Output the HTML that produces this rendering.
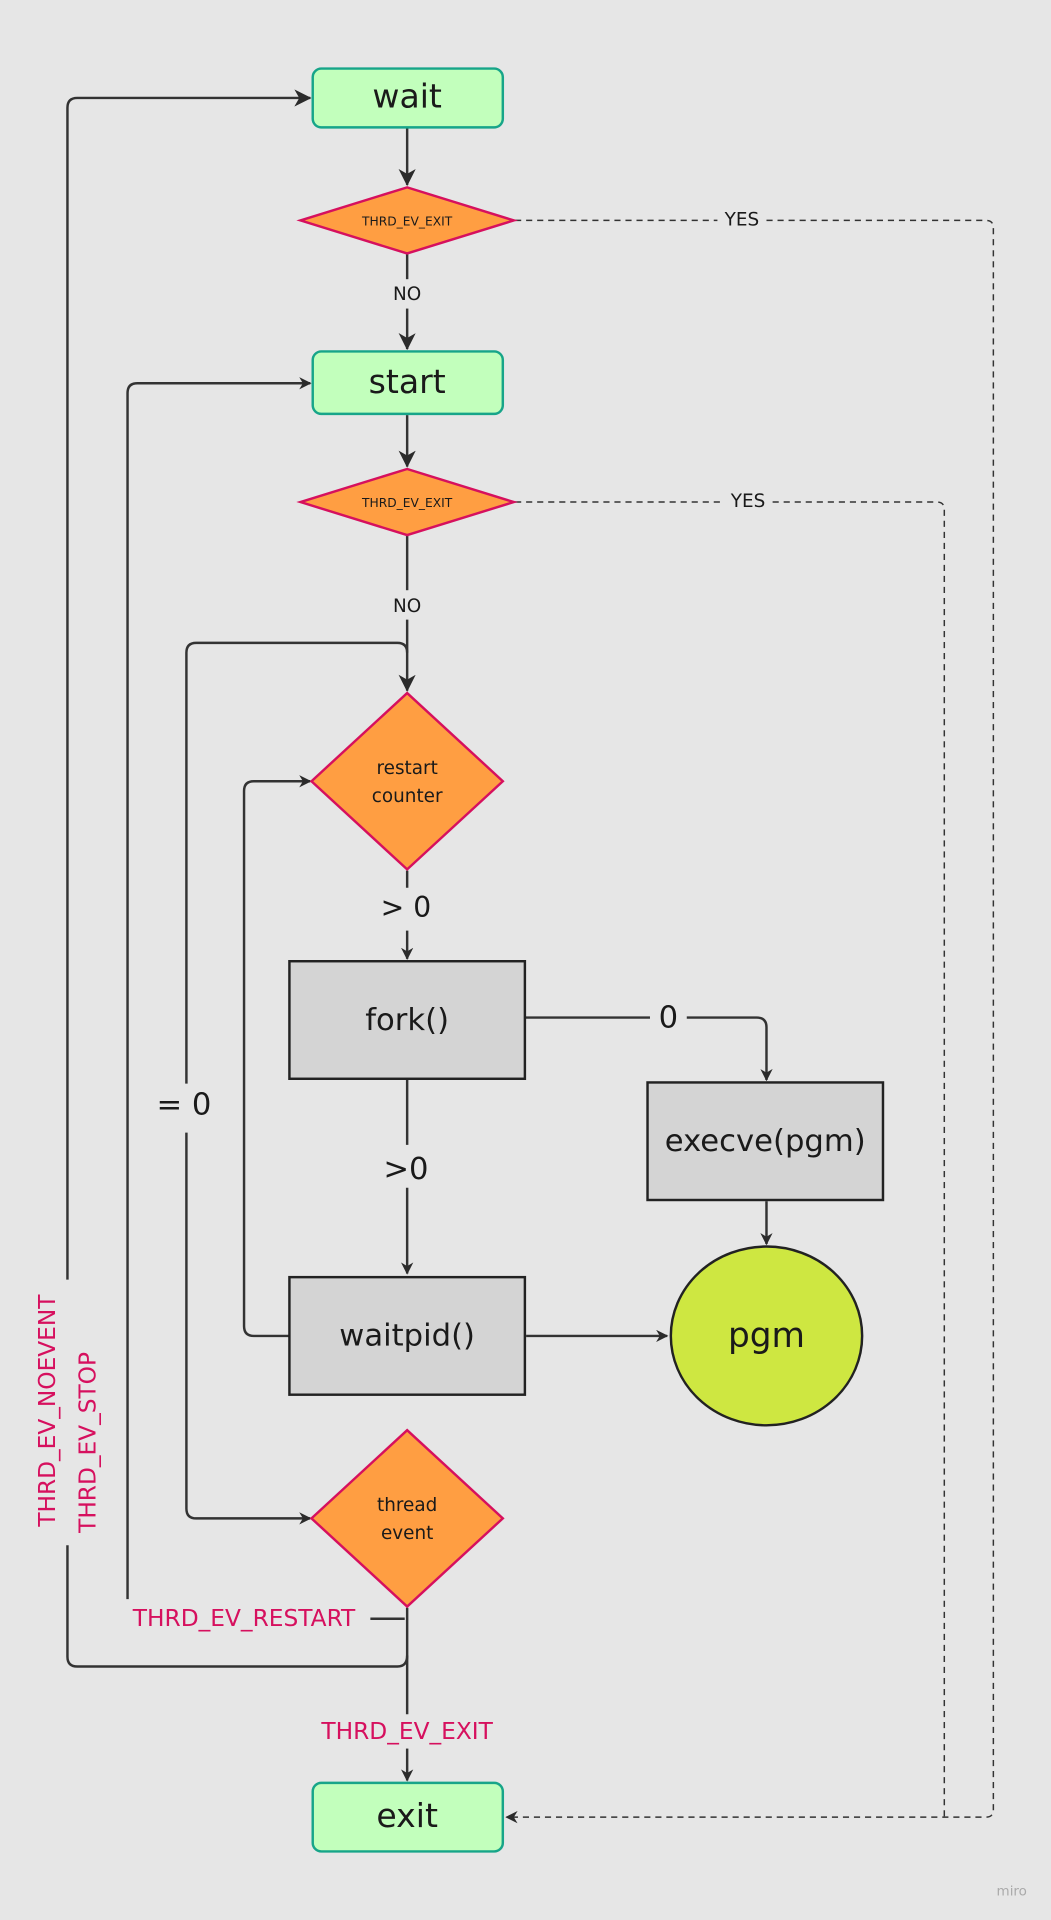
<!DOCTYPE html>
<html><head><meta charset="utf-8"><style>
html,body{margin:0;padding:0;background:#e6e6e6;}
svg{display:block;}
text{font-family:"DejaVu Sans","Liberation Sans",sans-serif;}
</style></head><body>
<svg width="1051" height="1920" viewBox="0 0 857 1568" preserveAspectRatio="none" xmlns="http://www.w3.org/2000/svg">
<defs>
<marker id="a" markerWidth="10" markerHeight="10" refX="9" refY="5" orient="auto" markerUnits="userSpaceOnUse"><path d="M0,0 L10,5 L0,10 L3,5 z" fill="#2b2b2b"/></marker>
<marker id="b" markerWidth="14" markerHeight="14" refX="13" refY="7" orient="auto" markerUnits="userSpaceOnUse"><path d="M0,0 L14,7 L0,14 L4,7 z" fill="#2b2b2b"/></marker>
</defs>
<rect width="857" height="1568" fill="#e6e6e6"/>
<g fill="none" stroke="#333" stroke-width="2">
<!-- main vertical -->
<line x1="332" y1="104" x2="332" y2="151" marker-end="url(#b)"/>
<line x1="332" y1="207" x2="332" y2="228"/>
<line x1="332" y1="252" x2="332" y2="285" marker-end="url(#b)"/>
<line x1="332" y1="339" x2="332" y2="381" marker-end="url(#b)"/>
<line x1="332" y1="437" x2="332" y2="482"/>
<line x1="332" y1="506" x2="332" y2="564" marker-end="url(#b)"/>
<line x1="332" y1="711" x2="332" y2="725"/>
<line x1="332" y1="760" x2="332" y2="783" marker-end="url(#a)"/>
<line x1="332" y1="882" x2="332" y2="935"/>
<line x1="332" y1="970" x2="332" y2="1040" marker-end="url(#a)"/>
<path d="M428,831 H530 M560,831 H617 Q625,831 625,839 V882" marker-end="url(#a)"/>
<line x1="625" y1="981" x2="625" y2="1016" marker-end="url(#a)"/>
<line x1="429" y1="1091" x2="544" y2="1091" marker-end="url(#a)"/>
<path d="M236,1091 H207 Q199,1091 199,1083 V646 Q199,638 207,638 H253" marker-end="url(#a)"/>
<path d="M152,925 V1232 Q152,1240 160,1240 H253" marker-end="url(#a)"/>
<path d="M152,885 V533 Q152,525 160,525 H324 Q332,525 332,533"/>
<path d="M332,1313 V1400"/>
<line x1="332" y1="1428" x2="332" y2="1454" marker-end="url(#a)"/>
<path d="M330,1322 H302"/>
<path d="M104,1306 V321 Q104,313 112,313 H253" marker-end="url(#a)"/>
<path d="M332,1352 Q332,1361 324,1361 H63 Q55,1361 55,1353 V1262"/>
<path d="M55,1045 V88 Q55,80 63,80 H253" marker-end="url(#b)"/>
</g>
<g fill="none" stroke="#333" stroke-width="1.2" stroke-dasharray="5,4">
<path d="M420,180 H585 M625,180 H804 Q810,180 810,186 V1478 Q810,1484 804,1484 H413" marker-end="url(#a)"/>
<path d="M420,410 H590 M630,410 H764 Q770,410 770,416 V1484"/>
</g>
<!-- boxes -->
<g stroke="#17a589" stroke-width="2" fill="#c2ffbc">
<rect x="255" y="56" width="155" height="48" rx="7"/>
<rect x="255" y="287" width="155" height="51" rx="7"/>
<rect x="255" y="1456" width="155" height="56" rx="7"/>
</g>
<g stroke="#d6105e" stroke-width="2" fill="#ff9e42">
<polygon points="245,180 332,153 419,180 332,207"/>
<polygon points="245,410 332,383 419,410 332,437"/>
<polygon points="254,638 332,566 410,638 332,710"/>
<polygon points="254,1240 332,1168 410,1240 332,1312"/>
</g>
<g stroke="#222" stroke-width="2" fill="#d4d4d4">
<rect x="236" y="785" width="192" height="96"/>
<rect x="528" y="884" width="192" height="96"/>
<rect x="236" y="1043" width="192" height="96"/>
</g>
<ellipse cx="625" cy="1091" rx="78" ry="73" fill="#cee741" stroke="#222" stroke-width="2"/>
<g fill="#1a1a1a" text-anchor="middle">
<text x="332" y="88" font-size="27">wait</text>
<text x="332" y="321" font-size="27">start</text>
<text x="332" y="1492" font-size="27">exit</text>
<text x="332" y="184" font-size="10">THRD_EV_EXIT</text>
<text x="332" y="414" font-size="10">THRD_EV_EXIT</text>
<text x="332" y="632" font-size="15">restart</text>
<text x="332" y="655" font-size="15">counter</text>
<text x="332" y="1234" font-size="15">thread</text>
<text x="332" y="1257" font-size="15">event</text>
<text x="332" y="841" font-size="25">fork()</text>
<text x="624" y="940" font-size="25">execve(pgm)</text>
<text x="332" y="1099" font-size="25">waitpid()</text>
<text x="625" y="1100" font-size="28">pgm</text>
<text x="332" y="245" font-size="15">NO</text>
<text x="332" y="500" font-size="15">NO</text>
<text x="605" y="184" font-size="15">YES</text>
<text x="610" y="414" font-size="15">YES</text>
<text x="331" y="749" font-size="23">&gt; 0</text>
<text x="331" y="963" font-size="25">&gt;0</text>
<text x="545" y="839" font-size="25">0</text>
<text x="150" y="910" font-size="25">= 0</text>
</g>
<g fill="#d6105e" font-size="19">
<text x="199" y="1328" text-anchor="middle">THRD_EV_RESTART</text>
<text x="332" y="1420" text-anchor="middle">THRD_EV_EXIT</text>
<text transform="translate(45,1152) rotate(-90)" text-anchor="middle">THRD_EV_NOEVENT</text>
<text transform="translate(78,1178) rotate(-90)" text-anchor="middle">THRD_EV_STOP</text>
</g>
<text x="825" y="1548" font-size="11" fill="#aaa" text-anchor="middle">miro</text>
</svg>
</body></html>
